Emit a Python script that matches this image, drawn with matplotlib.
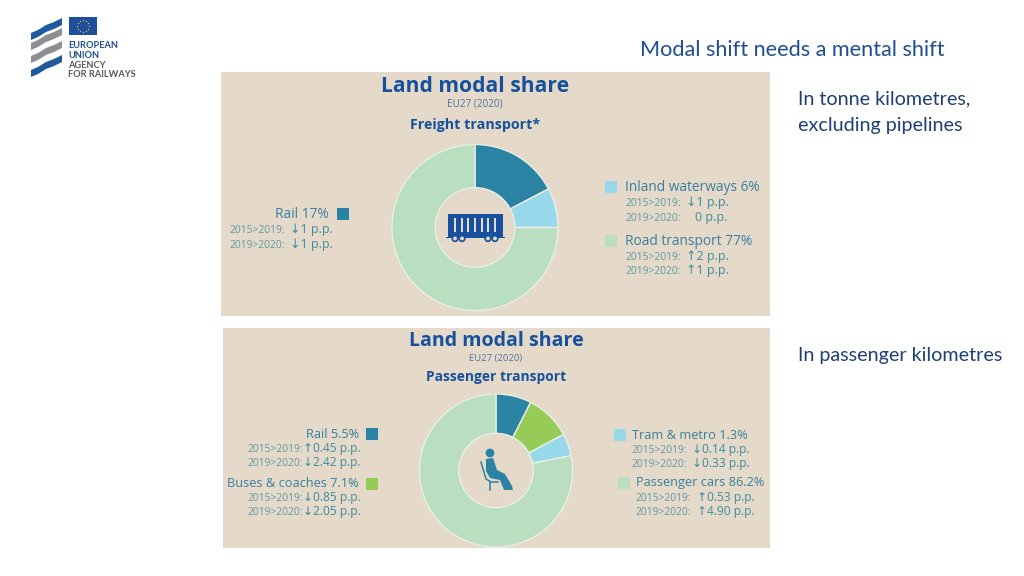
import numpy as np
import matplotlib
matplotlib.use('Agg')
import matplotlib.pyplot as plt
from matplotlib.patches import Rectangle, Circle, Polygon

W, H = 1024, 576

slide_title = 'Modal shift needs a mental shift'
chart_title = 'Land modal share'
chart_sub = 'EU27 (2020)'
years_a = '2015>2019:'
years_b = '2019>2020:'

# shares as drawn in the rings (they differ a bit from the printed labels)
freight_names = ['Rail 17%', 'Inland waterways 6%', 'Road transport 77%']
freight_shares = [17.3, 7.7, 75.0]
freight_a = ['↓1 p.p.', '↓1 p.p.', '↑2 p.p.']
freight_b = ['↓1 p.p.', '0 p.p.', '↑1 p.p.']

passenger_names = ['Rail 5.5%', 'Buses & coaches 7.1%', 'Tram & metro 1.3%', 'Passenger cars 86.2%']
passenger_shares = [7.5, 9.7, 4.7, 78.1]
passenger_a = ['↑0.45 p.p.', '↓0.85 p.p.', '↓0.14 p.p.', '↑0.53 p.p.']
passenger_b = ['↓2.42 p.p.', '↓2.05 p.p.', '↓0.33 p.p.', '↑4.90 p.p.']

freight_colors = ['#2b83a3', '#97d8ea', '#b9dfc0']
passenger_colors = ['#2b83a3', '#97cb57', '#97d8ea', '#b9dfc0']

NAVY = '#17509c'
TEAL = '#3f8c9f'
LABEL = '#39809f'
SMALL = '#5f9aa5'
PANEL = '#e5d9ca'
FONT = ['Open Sans', 'DejaVu Sans']
SLIDE_FONT = ['Lato', 'DejaVu Sans']

fig = plt.figure(figsize=(W / 100, H / 100), dpi=100, facecolor='white')
bg = fig.add_axes([0, 0, 1, 1], zorder=0)
bg.set_xlim(0, W)
bg.set_ylim(H, 0)
bg.axis('off')


def txt(x, y, s, px, color, ha='left', weight='normal', family=FONT):
    bg.text(x, y + 1.5, s, fontsize=px * 0.72, color=color, ha=ha, va='center',
            fontweight=weight, family=family)


def donut(cx, cy, r, shares, colors, hole):
    ax = fig.add_axes([(cx - r) / W, 1 - (cy + r) / H, 2 * r / W, 2 * r / H], zorder=1)
    ax.pie(shares, colors=colors, startangle=90, counterclock=False, radius=1,
           wedgeprops={'width': 1 - hole, 'edgecolor': '#e8efe6', 'linewidth': 1.0})
    ax.set_xlim(-1, 1)
    ax.set_ylim(-1, 1)
    ax.set_aspect('equal')


def entry(name, a, b, label_x, label_y, year_x, value_x, value_x2, dy1, dy2, px=13.8, vpx=12.5, right=False):
    txt(label_x, label_y, name, px, LABEL, ha='right' if right else 'left')
    txt(year_x, label_y + dy1 + 1, years_a, 10.2, SMALL)
    txt(value_x, label_y + dy1, a, vpx, TEAL)
    txt(year_x, label_y + dy2 + 1, years_b, 10.2, SMALL)
    txt(value_x2, label_y + dy2, b, vpx, TEAL)


def square(x, y, size, color):
    bg.add_patch(Rectangle((x, y), size, size, facecolor=color, edgecolor='none'))


# top panel
bg.add_patch(Rectangle((221, 72), 549, 244, facecolor=PANEL, edgecolor='none'))
txt(475, 84.5, chart_title, 21, NAVY, ha='center', weight='bold')
txt(475, 102.5, chart_sub, 10, '#56749f', ha='center')
txt(475, 123.5, 'Freight transport*', 14.2, NAVY, ha='center', weight='bold')
donut(475, 227.5, 83, freight_shares, freight_colors, 0.48)

entry(freight_names[0], freight_a[0], freight_b[0], 329, 213, 230, 290, 290, 15, 30, right=True)
square(337, 208, 12, freight_colors[0])
entry(freight_names[1], freight_a[1], freight_b[1], 625, 186, 625, 686, 695, 15, 30)
square(605, 181, 12, freight_colors[1])
entry(freight_names[2], freight_a[2], freight_b[2], 625, 240, 625, 686, 686, 15, 29)
square(605, 235, 12, freight_colors[2])

# wagon icon
bg.add_patch(Rectangle((448, 214), 55, 23, facecolor=NAVY, edgecolor='none'))
for x in np.arange(454, 500, 6.7):
    bg.add_patch(Rectangle((x, 218), 2, 14, facecolor=PANEL, edgecolor='none'))
bg.add_patch(Rectangle((446, 236.5), 59, 1.8, facecolor=NAVY, edgecolor='none'))
for x in [455, 462, 488, 495]:
    bg.add_patch(Circle((x, 238.5), 2.8, facecolor=PANEL, edgecolor=NAVY, linewidth=1.2))

# bottom panel
bg.add_patch(Rectangle((223, 328), 547, 220, facecolor=PANEL, edgecolor='none'))
txt(496, 339.5, chart_title, 19.6, NAVY, ha='center', weight='bold')
txt(496, 356.5, chart_sub, 9.5, '#56749f', ha='center')
txt(496, 375.5, 'Passenger transport', 13.7, NAVY, ha='center', weight='bold')
donut(496, 470.5, 76.5, passenger_shares, passenger_colors, 0.486)

entry(passenger_names[0], passenger_a[0], passenger_b[0], 359, 433, 248, 303, 303, 14, 28, px=12.8, vpx=12, right=True)
square(366, 428, 12, passenger_colors[0])
entry(passenger_names[1], passenger_a[1], passenger_b[1], 359, 482, 248, 303, 303, 14, 28, px=12.8, vpx=12, right=True)
square(366, 478, 12, passenger_colors[1])
entry(passenger_names[2], passenger_a[2], passenger_b[2], 632, 434, 632, 692, 692, 14, 28, px=12.8, vpx=12)
square(614, 429, 12, passenger_colors[2])
entry(passenger_names[3], passenger_a[3], passenger_b[3], 636, 481, 636, 697, 697, 15, 29, px=12.8, vpx=12)
square(618, 477, 12, passenger_colors[3])

# seated passenger icon
ICON = '#2b83a3'
bg.add_patch(Circle((490, 453), 4.4, facecolor=ICON, edgecolor='none'))
bg.add_patch(Polygon([(486, 459), (493, 458), (497, 470), (505, 474), (512, 486), (513, 490),
                      (504, 490), (500, 480), (490, 478), (486, 471)],
                     closed=True, facecolor=ICON, edgecolor='none'))
bg.plot([481, 486, 491, 498], [462, 479, 482, 482], color=ICON, lw=1.1)
bg.plot([490, 490], [482, 490], color=ICON, lw=1.1)

# slide texts
txt(640, 48, slide_title, 21.7, '#1f4e96', family=SLIDE_FONT)
txt(798, 97.5, 'In tonne kilometres,', 19.8, '#1f3f77', family=SLIDE_FONT)
txt(798, 123.5, 'excluding pipelines', 19.8, '#1f3f77', family=SLIDE_FONT)
txt(798, 354, 'In passenger kilometres', 19.8, '#1f3f77', family=SLIDE_FONT)

# agency logo
STRIPES = [('#1f5a9c', 33, 18), ('#8d8f92', 43, 28), ('#8d8f92', 56, 41), ('#1f5a9c', 70, 55)]
xs = np.array([31, 38, 46, 54, 62])
bend = np.array([0, -3, -8, -11, -15])
for color, y0, y1 in STRIPES:
    top = y0 + bend + 15
    pts = list(zip(xs, top - 15)) + list(zip(xs[::-1], (top - 8)[::-1]))
    bg.add_patch(Polygon(pts, closed=True, facecolor=color, edgecolor='none'))
bg.add_patch(Rectangle((69, 17), 28, 18, facecolor='#1d4f9a', edgecolor='none'))
for a in np.linspace(0, 2 * np.pi, 12, endpoint=False):
    bg.plot(83 + 6 * np.cos(a), 26 + 6 * np.sin(a), marker='*', ms=1.6, color='#e8d44d', mew=0)
for y, line, color in [(44, 'EUROPEAN', '#1f4e96'), (54, 'UNION', '#1f4e96'),
                       (64, 'AGENCY', '#55585c'), (73, 'FOR RAILWAYS', '#55585c')]:
    txt(68, y, line, 9.3, color, weight='bold', family=SLIDE_FONT)

fig.savefig('out.png', dpi=100, facecolor='white')
